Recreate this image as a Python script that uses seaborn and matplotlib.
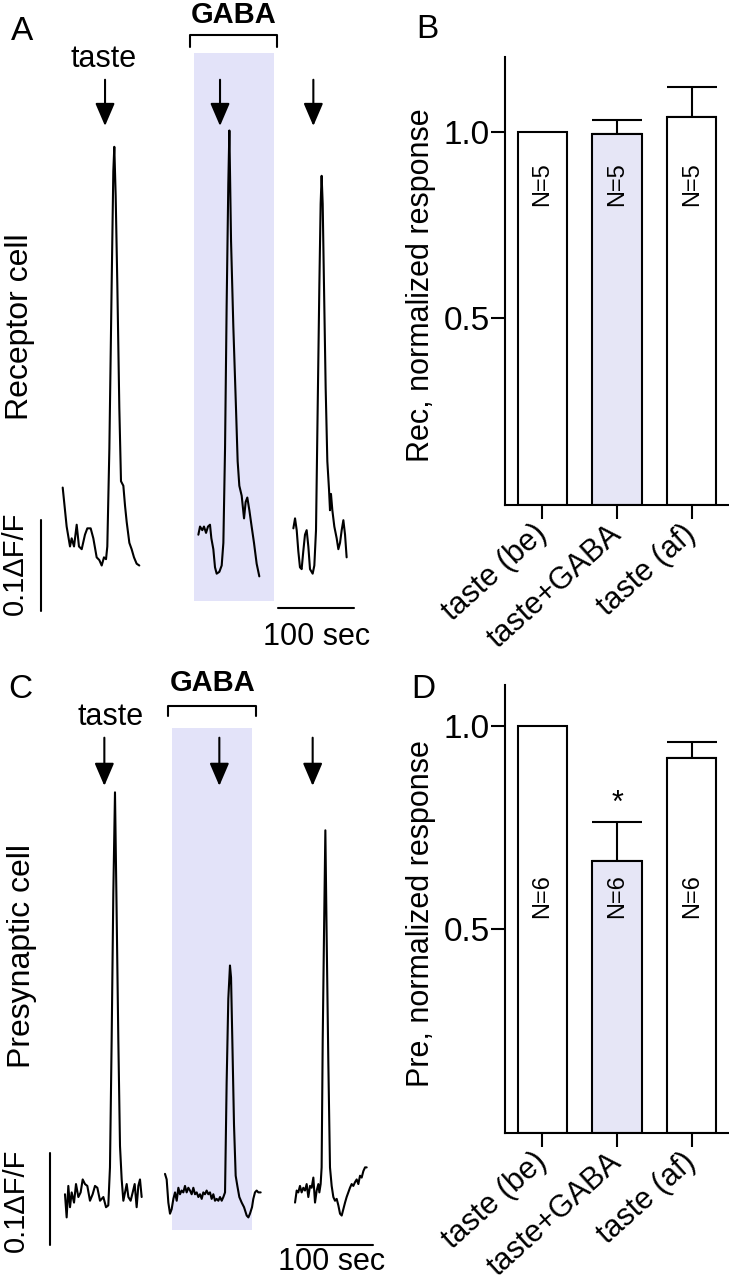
import matplotlib.pyplot as plt
import seaborn as sns

# bar panels: conditions and values
conditions = ["taste (be)", "taste+GABA", "taste (af)"]

rec_mean = [1.0, 0.995, 1.04]
rec_sem = [0.0, 0.035, 0.08]
rec_n = ["N=5", "N=5", "N=5"]

pre_mean = [1.0, 0.668, 0.92]
pre_sem = [0.0, 0.095, 0.039]
pre_n = ["N=6", "N=6", "N=6"]

# receptor cell traces (time in sec, dF/F)
rec_t1 = [82.5, 87.7, 92.1, 94.3, 97.4, 100.9, 103.9, 107.5, 111.8, 114.9, 119.3, 122.8, 127.2,
          130.7, 133.8, 136.8, 139.5, 141.2, 143.9, 146.9, 149.1, 150.4, 152.2, 154.4, 157.0,
          159.2, 162.3, 164.5, 166.7, 170.2, 173.2, 176.3, 179.8, 183.3]
rec_f1 = [0.079, 0.036, 0.014, 0.023, 0.014, 0.038, 0.014, 0.011, 0.027, 0.034, 0.034, 0.023, 0.002,
          -0.001, -0.007, 0.002, 0.0, 0.014, 0.122, 0.302, 0.428, 0.455, 0.401, 0.302, 0.167,
          0.086, 0.081, 0.059, 0.041, 0.018, 0.011, 0.002, -0.005, -0.007]
rec_t2 = [261.0, 263.2, 266.2, 268.4, 271.1, 273.7, 276.3, 278.1, 280.7, 282.9, 285.1, 288.6, 291.7,
          293.9, 296.1, 298.2, 300.4, 301.8, 304.0, 307.0, 310.5, 312.7, 314.9, 318.0, 321.1,
          323.2, 325.4, 328.1, 331.1, 334.2, 337.7, 341.2]
rec_f2 = [0.027, 0.036, 0.032, 0.036, 0.029, 0.036, 0.038, 0.023, 0.011, -0.009, -0.016, -0.014, -0.007,
          0.018, 0.122, 0.279, 0.414, 0.473, 0.351, 0.257, 0.167, 0.108, 0.081, 0.070, 0.045,
          0.063, 0.068, 0.054, 0.036, 0.018, -0.005, -0.019]
rec_t3 = [386.0, 388.2, 390.4, 392.5, 394.7, 396.9, 399.1, 401.3, 403.5, 405.7, 407.9, 411.4, 413.6,
          415.8, 418.0, 420.2, 421.9, 423.2, 424.6, 426.3, 428.5, 430.7, 432.9, 434.2, 435.5,
          437.3, 439.9, 443.0, 445.2, 447.4, 449.6, 451.8, 454.0, 456.1]
rec_f3 = [0.034, 0.045, 0.032, 0.009, -0.009, -0.011, 0.009, 0.027, 0.032, 0.014, -0.011, -0.016, -0.007,
          0.032, 0.167, 0.302, 0.392, 0.423, 0.392, 0.302, 0.189, 0.108, 0.077, 0.054, 0.072,
          0.054, 0.036, 0.023, 0.011, 0.018, 0.032, 0.043, 0.027, 0.002]

# presynaptic cell traces
pre_t1 = [85.5, 87.7, 89.9, 92.1, 94.3, 97.4, 100.0, 103.1, 106.1, 108.8, 111.8, 114.9, 118.4,
          121.9, 125.0, 128.1, 131.6, 136.0, 139.5, 142.5, 144.7, 146.9, 149.1, 151.3, 153.5,
          155.7, 157.9, 160.1, 162.3, 164.5, 166.7, 168.9, 171.9, 174.6, 177.2, 179.8, 182.0,
          184.2, 186.4]
pre_f1 = [-0.002, -0.027, 0.007, -0.016, 0.0, -0.011, 0.009, -0.005, 0.0, 0.014, 0.009, 0.007, -0.009,
          -0.002, 0.007, 0.005, -0.009, -0.005, -0.016, -0.014, 0.027, 0.164, 0.323, 0.432, 0.300,
          0.164, 0.050, 0.014, -0.009, 0.0, 0.009, -0.005, -0.009, 0.0, 0.009, -0.016, 0.007,
          0.014, -0.005]
pre_t2 = [217.1, 219.3, 221.5, 223.7, 225.9, 228.1, 230.3, 232.5, 234.7, 236.8, 239.0, 241.2, 243.4,
          245.6, 247.8, 250.0, 252.2, 254.4, 256.6, 258.8, 261.0, 263.2, 265.4, 267.5, 269.7,
          271.9, 274.1, 276.3, 278.5, 280.7, 282.9, 285.1, 287.3, 289.5, 291.7, 293.9, 296.1,
          298.2, 300.4, 302.6, 304.0, 305.7, 307.9, 310.1, 312.3, 314.9, 318.0, 321.1, 324.6,
          326.8, 328.9, 331.6, 333.3, 335.5, 337.7, 339.9, 343.0]
pre_f2 = [0.020, 0.014, -0.011, -0.023, -0.018, -0.007, 0.0, -0.009, 0.005, -0.002, 0.002, 0.0, 0.007,
          0.0, 0.005, 0.002, -0.002, 0.005, -0.002, 0.0, -0.005, -0.002, -0.007, 0.0, -0.002,
          0.002, -0.002, 0.0, -0.007, -0.002, -0.009, -0.007, -0.009, -0.005, -0.009, -0.005, 0.0,
          0.118, 0.209, 0.245, 0.232, 0.164, 0.073, 0.018, 0.007, -0.005, -0.011, -0.016, -0.025,
          -0.027, -0.023, -0.016, -0.007, 0.0, 0.002, 0.0, 0.0]
pre_t3 = [388.2, 390.4, 392.5, 394.7, 396.9, 399.1, 401.3, 403.5, 405.7, 407.9, 410.1, 412.3, 414.5,
          416.7, 418.9, 420.2, 421.9, 423.2, 424.6, 426.3, 428.1, 429.8, 432.0, 434.2, 436.4,
          438.6, 440.8, 443.0, 445.2, 447.4, 449.6, 451.8, 454.0, 456.1, 458.3, 460.5, 462.7,
          464.9, 467.1, 469.3, 471.5, 473.7, 475.9, 478.1, 480.3, 482.5]
pre_f3 = [-0.011, 0.002, 0.0, 0.007, 0.0, 0.005, 0.002, 0.009, -0.005, 0.007, 0.005, 0.016, -0.011,
          0.002, 0.009, 0.0, 0.009, 0.027, 0.164, 0.277, 0.391, 0.277, 0.141, 0.027, 0.007,
          -0.005, -0.009, -0.007, -0.014, -0.023, -0.025, -0.018, -0.011, -0.005, 0.0, 0.005, 0.009,
          0.007, 0.011, 0.014, 0.009, 0.018, 0.016, 0.023, 0.027, 0.027]

# stimulus timing (sec)
rec_taste_at = [138.2, 289.5, 412.3]
rec_gaba = [255.7, 360.5]
pre_taste_at = [137.3, 288.6, 411.4]
pre_gaba = [225.9, 331.1]

LAV = "#e3e3f9"
FS = 22

sns.set_style("white")
plt.rcParams["font.family"] = ["Liberation Sans", "DejaVu Sans"]
plt.rcParams.update({"text.color": "black", "axes.labelcolor": "black",
                     "xtick.color": "black", "ytick.color": "black"})

fig = plt.figure(figsize=(7.29, 12.8), dpi=100)


def trace_panel(ax, traces, taste_at, gaba, lay):
    ax.set_xlim(0, 500)
    ax.set_ylim(*lay["ylim"])
    ax.axis("off")
    ax.fill_between(gaba, lay["shade"][0], lay["shade"][1], color=LAV, lw=0, zorder=0)
    for t, f in traces:
        sns.lineplot(x=t, y=f, ax=ax, color="black", lw=1.5, sort=False, estimator=None)
    # GABA bracket
    b0, b1 = lay["bracket_t"]
    lo, hi = lay["bracket_f"]
    ax.plot([b0, b0, b1, b1], [lo, hi, hi, lo], color="black", lw=1.5)
    ax.text((b0 + b1) / 2, lay["gaba_f"], "GABA", ha="center", va="center",
            fontsize=FS - 1, fontweight="bold")
    ax.text(lay["taste_xy"][0], lay["taste_xy"][1], "taste", ha="center", va="center", fontsize=FS)
    for t in taste_at:
        ax.annotate("", xy=(t, lay["arrow_f"][1]), xytext=(t, lay["arrow_f"][0]),
                    arrowprops=dict(arrowstyle="-|>,head_width=0.3,head_length=0.7",
                                    mutation_scale=20, color="black", lw=1.5,
                                    shrinkA=0, shrinkB=0))
    # scale bars
    vt, v0, v1 = lay["vbar"]
    ax.plot([vt, vt], [v0, v1], color="black", lw=1.5)
    ax.text(lay["vlab"][0], lay["vlab"][1], "0.1ΔF/F", rotation=90, ha="center", va="center",
            fontsize=FS - 1)
    hf, h0, h1 = lay["hbar"]
    ax.plot([h0, h1], [hf, hf], color="black", lw=1.5)
    ax.text(lay["hlab"][0], lay["hlab"][1], "100 sec", ha="center", va="center", fontsize=FS)
    ax.text(lay["cell"][0], lay["cell"][1], lay["cell_name"], rotation=90, ha="center",
            va="center", fontsize=FS + 1)


def bar_panel(ax, means, sems, ns, ylim, ylabel, n_y):
    sns.barplot(x=conditions, y=means, hue=conditions, palette=["white", LAV, "white"],
                edgecolor="black", linewidth=1.5, width=0.66, errorbar=None, legend=False,
                ax=ax, zorder=2)
    idx = [i for i, s in enumerate(sems) if s > 0]
    ax.errorbar(idx, [means[i] for i in idx], yerr=[[0] * len(idx), [sems[i] for i in idx]],
                fmt="none", ecolor="black", elinewidth=1.5, capsize=18, capthick=1.5, zorder=1)
    for i, lab in enumerate(ns):
        ax.text(i, n_y, lab, rotation=90, ha="center", va="center", fontsize=17)
    ax.set_xlim(-0.5, 2.5)
    ax.set_ylim(*ylim)
    ax.set_yticks([0.5, 1.0])
    ax.set_yticklabels(["0.5", "1.0"], fontsize=FS + 2)
    ax.set_xticks(range(3))
    ax.set_xticklabels(conditions, fontsize=FS, rotation=42, ha="right", va="center",
                       rotation_mode="anchor")
    ax.tick_params(axis="both", direction="out", length=10, width=1.5, color="black",
                   left=True, bottom=True)
    ax.tick_params(axis="y", pad=1)
    ax.tick_params(axis="x", pad=8)
    sns.despine(ax=ax)
    for s in ["left", "bottom"]:
        ax.spines[s].set_linewidth(1.5)
        ax.spines[s].set_color("black")
    ax.set_ylabel(ylabel, fontsize=FS)
    ax.set_xlabel("")
    ax.yaxis.set_label_coords(-0.31, 0.49)


ax_a = fig.add_axes([0, 0.5, 380 / 729, 0.5])
trace_panel(ax_a, [(rec_t1, rec_f1), (rec_t2, rec_f2), (rec_t3, rec_f3)], rec_taste_at, rec_gaba,
            dict(ylim=(-0.0892, 0.617), shade=(-0.046, 0.559), bracket_t=(250, 364),
                 bracket_f=(0.565, 0.578), gaba_f=0.601, taste_xy=(136.8, 0.552),
                 arrow_f=(0.529, 0.478), vbar=(53.5, -0.057, 0.043), vlab=(19.5, -0.005),
                 hbar=(-0.054, 366.2, 466.2), hlab=(416, -0.086), cell=(26.3, 0.257),
                 cell_name="Receptor cell"))

ax_c = fig.add_axes([0, 0, 380 / 729, 0.5])
trace_panel(ax_c, [(pre_t1, pre_f1), (pre_t2, pre_f2), (pre_t3, pre_f3)], pre_taste_at, pre_gaba,
            dict(ylim=(-0.0946, 0.5965), shade=(-0.041, 0.502), bracket_t=(221.5, 336.8),
                 bracket_f=(0.514, 0.525), gaba_f=0.550, taste_xy=(146, 0.513),
                 arrow_f=(0.491, 0.439), vbar=(65.8, -0.057, 0.043), vlab=(21.5, -0.009),
                 hbar=(-0.057, 390.4, 490.4), hlab=(436, -0.075), cell=(28.5, 0.255),
                 cell_name="Presynaptic cell"))

ax_b = fig.add_axes([505 / 729, 1 - 505 / 1280, 224 / 729, 448 / 1280])
bar_panel(ax_b, rec_mean, rec_sem, rec_n, (0, 1.2), "Rec, normalized response", 0.86)

ax_d = fig.add_axes([505 / 729, 1 - 1133 / 1280, 224 / 729, 448 / 1280])
bar_panel(ax_d, pre_mean, pre_sem, pre_n, (0, 1.1), "Pre, normalized response", 0.582)
ax_d.text(1, 0.808, "*", ha="center", va="center", fontsize=FS)

for lab, x, y in [("A", 22, 31), ("B", 427, 29), ("C", 20, 689), ("D", 423, 689)]:
    fig.text(x / 729, 1 - y / 1280, lab, ha="center", va="center", fontsize=FS + 2)

fig.savefig("out.png", dpi=100)
